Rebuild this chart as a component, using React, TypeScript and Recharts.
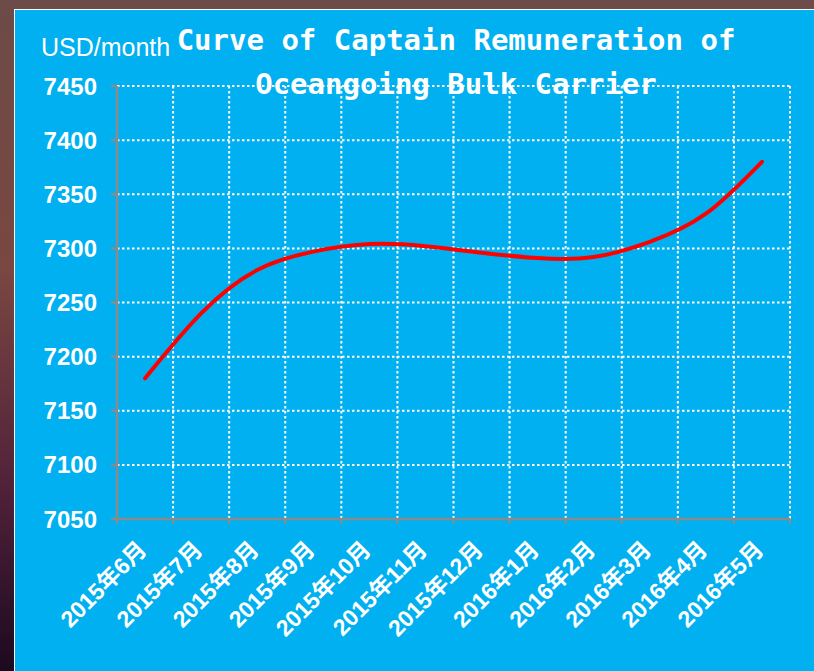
import React from 'react';
import { LineChart, Line, XAxis, YAxis, CartesianGrid } from 'recharts';

const months = [
  '2015年6月', '2015年7月', '2015年8月', '2015年9月', '2015年10月', '2015年11月',
  '2015年12月', '2016年1月', '2016年2月', '2016年3月', '2016年4月', '2016年5月',
];
const remuneration = [7180, 7240, 7280, 7297, 7304, 7302, 7296, 7291, 7292, 7306, 7332, 7380];
const yTicks = [7050, 7100, 7150, 7200, 7250, 7300, 7350, 7400, 7450];

const data = months.map((month, i) => ({ month, value: remuneration[i] }));

const BLUE = '#00B0F0';
const GREY = '#8a8a8a';
const FONT = '"Liberation Sans", Arial, "Noto Sans CJK SC", sans-serif';

// Excel-style: label at the category centre, tick marks on the category boundaries
function MonthTick({ x, y, payload, index, width, visibleTicksCount }: any) {
  const band = width / visibleTicksCount;
  const ax = x + 3;
  const ay = y + 32;
  return (
    <g>
      {index === 0 && <line x1={x - band / 2} x2={x - band / 2} y1={y} y2={y + 5} stroke={GREY} strokeWidth={2} />}
      <line x1={x + band / 2} x2={x + band / 2} y1={y} y2={y + 5} stroke={GREY} strokeWidth={2} />
      <text
        x={ax}
        y={ay}
        transform={`rotate(-45, ${ax}, ${ay})`}
        textAnchor="end"
        fill="#fff"
        fontSize={23}
        fontWeight="bold"
        fontFamily={FONT}
      >
        {payload.value}
      </text>
    </g>
  );
}

const boundaryLines = ({ offset }: any) =>
  months.map((_, i) => offset.left + ((i + 1) * offset.width) / months.length);

export default function App() {
  return (
    <div
      style={{
        position: 'fixed', left: 0, top: 0, width: 814, height: 671, overflow: 'hidden',
        background: 'linear-gradient(to bottom, #6d4b48 0%, #7a4741 40%, #52223a 72%, #1c0a20 100%)',
      }}
    >
      <div
        style={{
          position: 'absolute', left: 14, top: 9, width: 800, height: 662,
          background: BLUE, borderTop: '1px solid #fff', borderLeft: '1px solid #fff',
        }}
      />
      <div style={{ position: 'absolute', left: 0, top: 0 }}>
        <LineChart width={814} height={671} data={data} margin={{ top: 86, right: 24, bottom: 151, left: 0 }}>
          <CartesianGrid
            stroke="#fff"
            strokeWidth={2}
            strokeDasharray="2.5 2.5"
            verticalCoordinatesGenerator={boundaryLines}
          />
          <XAxis
            dataKey="month"
            scale="band"
            height={1}
            interval={0}
            axisLine={{ stroke: GREY, strokeWidth: 2.5 }}
            tickLine={false}
            tickSize={0}
            tickMargin={0}
            tick={<MonthTick />}
          />
          <YAxis
            domain={[7050, 7450]}
            ticks={yTicks}
            width={117}
            allowDataOverflow
            tickSize={6}
            tickMargin={14}
            axisLine={{ stroke: GREY, strokeWidth: 2.5 }}
            tickLine={{ stroke: GREY, strokeWidth: 2.5 }}
            tick={{ fill: '#fff', fontSize: 24, fontWeight: 'bold', fontFamily: FONT }}
          />
          <Line
            type="natural"
            dataKey="value"
            stroke="#ff0000"
            strokeWidth={4}
            strokeLinecap="round"
            dot={false}
            isAnimationActive={false}
          />
        </LineChart>
      </div>
      <div
        style={{
          position: 'absolute', left: 41, top: 35, color: '#fff', fontFamily: FONT,
          fontSize: 25, lineHeight: '25px', whiteSpace: 'nowrap',
        }}
      >
        USD/month
      </div>
      <div
        style={{
          position: 'absolute', left: 156, top: 18, width: 600, textAlign: 'center', color: '#fff',
          fontFamily: '"DejaVu Sans Mono", monospace', fontWeight: 'bold', fontSize: 29, lineHeight: '44px',
        }}
      >
        Curve of Captain Remuneration of
        <br />
        Oceangoing Bulk Carrier
      </div>
    </div>
  );
}
